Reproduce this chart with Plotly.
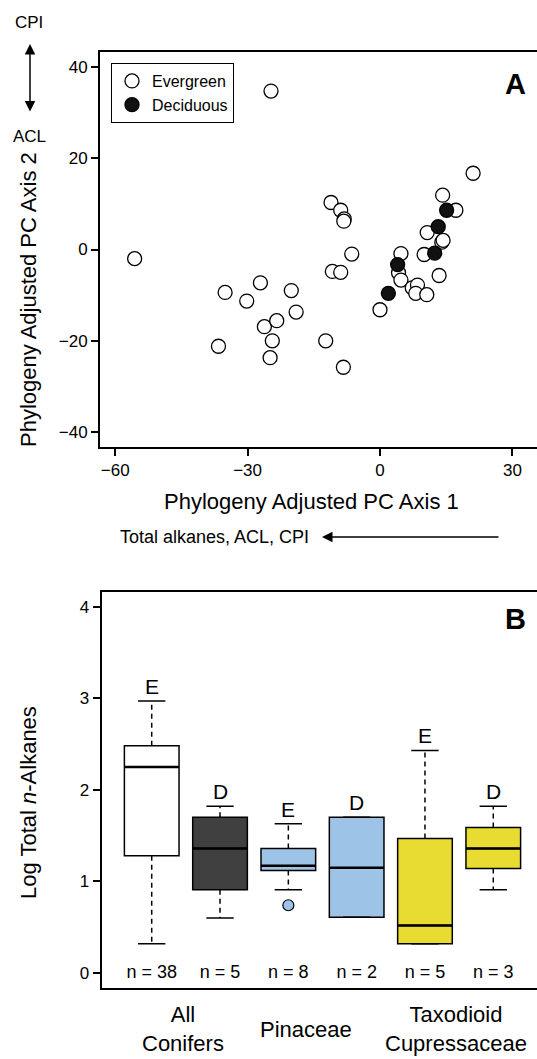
import plotly.graph_objects as go

W, H = 537, 1059
FONT = "Liberation Sans, Arial, Helvetica, sans-serif"

# ---------------- Panel A data (phylogeny adjusted PCA scores) ----------------
evergreen_pc1 = [-55.6, -24.7, -11.1, -8.9, -8.1, -8.2, -6.4, -10.8, -8.9, -35.1,
                 -27.1, -30.2, -20.1, -19.0, -26.2, -23.4, -24.4, -36.6, -24.9, -12.3,
                 -8.3, 21.1, 14.2, 17.2, 10.7, 14.0, 14.3, 10.0, 4.75, 4.2,
                 4.75, 13.4, 7.3, 8.5, 8.1, 10.6, 0.0]
evergreen_pc2 = [-2.0, 34.7, 10.3, 8.6, 6.7, 6.2, -1.0, -4.8, -5.0, -9.4,
                 -7.3, -11.3, -9.0, -13.7, -16.9, -15.6, -20.0, -21.2, -23.7, -20.0,
                 -25.8, 16.7, 11.9, 8.6, 3.7, 1.6, 2.0, -1.1, -0.9, -5.1,
                 -6.7, -5.7, -8.4, -7.8, -9.6, -9.9, -13.2]
deciduous_pc1 = [15.1, 13.2, 12.4, 4.0, 1.9]
deciduous_pc2 = [8.6, 5.0, -0.8, -3.3, -9.6]

# ---------------- Panel B data (log total n-alkanes) ----------------
positions = [1, 2, 3, 4, 5, 6]
whisker_low = [0.32, 0.60, 0.91, 0.61, 0.32, 0.91]
q1 = [1.28, 0.91, 1.12, 0.61, 0.32, 1.14]
median = [2.25, 1.36, 1.17, 1.15, 0.52, 1.36]
q3 = [2.48, 1.70, 1.36, 1.70, 1.47, 1.59]
whisker_high = [2.97, 1.82, 1.63, 1.70, 2.43, 1.82]
habit_letters = ["E", "D", "E", "D", "E", "D"]
n_labels = ["n = 38", "n = 5", "n = 8", "n = 2", "n = 5", "n = 3"]
box_colors = ["#FFFFFF", "#404040", "#9DC3E6", "#9DC3E6", "#E8DC32", "#E8DC32"]
outlier_pos = [3]
outlier_val = [0.74]
outlier_color = "#9DC3E6"
group_labels = ["All<br>Conifers", "Pinaceae", "Taxodioid<br>Cupressaceae"]
group_label_pos = [1.46, 3.26, 5.45]

BOX_W = 0.8
CAP_HALF = 0.2

fig = go.Figure()

# Panel A scatter
fig.add_trace(go.Scatter(
    x=evergreen_pc1, y=evergreen_pc2, mode="markers", name="Evergreen",
    marker=dict(symbol="circle", size=14, color="white",
                line=dict(color="black", width=1.3)),
    xaxis="x", yaxis="y"))
fig.add_trace(go.Scatter(
    x=deciduous_pc1, y=deciduous_pc2, mode="markers", name="Deciduous",
    marker=dict(symbol="circle", size=14, color="#111111",
                line=dict(color="black", width=1.3)),
    xaxis="x", yaxis="y"))

# Panel B boxes
for i, p in enumerate(positions):
    fig.add_trace(go.Box(
        x=[p], q1=[q1[i]], median=[median[i]], q3=[q3[i]],
        lowerfence=[q1[i]], upperfence=[q3[i]],
        width=BOX_W, whiskerwidth=0, boxpoints=False,
        fillcolor=box_colors[i], line=dict(color="black", width=1.5),
        showlegend=False, hoverinfo="skip", xaxis="x2", yaxis="y2"))

# dashed whiskers, caps, thick medians
wx, wy = [], []
cx, cy = [], []
mx, my = [], []
for i, p in enumerate(positions):
    wx += [p, p, None, p, p, None]
    wy += [q3[i], whisker_high[i], None, q1[i], whisker_low[i], None]
    cx += [p - CAP_HALF, p + CAP_HALF, None, p - CAP_HALF, p + CAP_HALF, None]
    cy += [whisker_high[i], whisker_high[i], None, whisker_low[i], whisker_low[i], None]
    mx += [p - BOX_W / 2, p + BOX_W / 2, None]
    my += [median[i], median[i], None]

fig.add_trace(go.Scatter(x=wx, y=wy, mode="lines",
                         line=dict(color="black", width=1.5, dash="5px,4px"),
                         showlegend=False, hoverinfo="skip", xaxis="x2", yaxis="y2"))
fig.add_trace(go.Scatter(x=cx, y=cy, mode="lines",
                         line=dict(color="black", width=1.5),
                         showlegend=False, hoverinfo="skip", xaxis="x2", yaxis="y2"))
fig.add_trace(go.Scatter(x=mx, y=my, mode="lines",
                         line=dict(color="black", width=2.5),
                         showlegend=False, hoverinfo="skip", xaxis="x2", yaxis="y2"))
fig.add_trace(go.Scatter(x=outlier_pos, y=outlier_val, mode="markers",
                         marker=dict(size=11, color=outlier_color,
                                     line=dict(color="black", width=1.2)),
                         showlegend=False, hoverinfo="skip", xaxis="x2", yaxis="y2"))
fig.add_trace(go.Scatter(x=positions, y=[0] * len(positions), mode="text",
                         text=n_labels, textposition="middle center",
                         textfont=dict(size=18, color="black", family=FONT),
                         showlegend=False, hoverinfo="skip", xaxis="x2", yaxis="y2"))

annotations = []
for i, p in enumerate(positions):
    annotations.append(dict(x=p, y=whisker_high[i], xref="x2", yref="y2",
                            text=habit_letters[i], showarrow=False,
                            xanchor="center", yanchor="bottom", yshift=1,
                            font=dict(size=21, color="black", family=FONT)))
for lab, pos in zip(group_labels, group_label_pos):
    annotations.append(dict(x=pos, y=1 - 1029 / H, xref="x2", yref="paper",
                            text=lab, showarrow=False, xanchor="center",
                            yanchor="middle",
                            font=dict(size=22, color="black", family=FONT)))

def px(x):
    return x / W

def py(y):
    return 1 - y / H

def label(x, y, text, size, bold=False, angle=0):
    return dict(x=px(x), y=py(y), xref="paper", yref="paper",
                text=f"<b>{text}</b>" if bold else text, textangle=angle,
                showarrow=False, xanchor="center", yanchor="middle",
                font=dict(size=size, color="black", family=FONT))

annotations += [
    label(515.5, 84, "A", 29, bold=True),
    label(515.5, 619, "B", 29, bold=True),
    label(28, 300, "Phylogeny Adjusted PC Axis 2", 22, angle=-90),
    label(311, 501, "Phylogeny Adjusted PC Axis 1", 22),
    label(28, 803, "Log Total <i>n</i>-Alkanes", 22, angle=-90),
    label(214, 537, "Total alkanes, ACL, CPI", 18),
    label(29, 23, "CPI", 17),
    label(29, 136, "ACL", 17),
    dict(x=px(322), y=py(537), xref="paper", yref="paper", text="",
         showarrow=True, ax=178, ay=0, arrowhead=2, arrowsize=1.4,
         arrowwidth=1.5, arrowcolor="black"),
    dict(x=px(30), y=py(44), xref="paper", yref="paper", text="",
         showarrow=True, ax=0, ay=69, arrowhead=2, startarrowhead=2,
         arrowside="end+start", arrowsize=1.4, startarrowsize=1.4,
         arrowwidth=1.5, arrowcolor="black"),
]

axis_common = dict(showline=True, linecolor="black", linewidth=2,
                   showgrid=False, zeroline=False, ticks="outside",
                   ticklen=7, tickwidth=1.5, tickcolor="black",
                   tickfont=dict(size=17, color="black", family=FONT))

fig.update_layout(
    width=W, height=H,
    margin=dict(l=0, r=0, t=0, b=0),
    paper_bgcolor="white", plot_bgcolor="white",
    font=dict(family=FONT, color="black"),
    showlegend=True,
    legend=dict(x=px(111), y=py(63), xanchor="left", yanchor="top",
                bgcolor="white", bordercolor="black", borderwidth=1,
                font=dict(size=16, color="black", family=FONT),
                itemsizing="trace", tracegroupgap=0),
    xaxis=dict(domain=[px(100), 1], range=[-63.45, 35.58],
               tickvals=[-60, -30, 0, 30], mirror=True, anchor="y",
               **axis_common),
    yaxis=dict(domain=[py(446.7), py(52.3)], range=[-43.2, 43.2],
               tickvals=[-40, -20, 0, 20, 40], mirror=False, anchor="x",
               **axis_common),
    xaxis2=dict(domain=[px(101.5), 1], range=[0.265, 6.64],
                showline=True, linecolor="black", linewidth=2, mirror=True,
                showgrid=False, zeroline=False, ticks="", showticklabels=False,
                anchor="y2"),
    yaxis2=dict(domain=[py(987.7), py(591.7)], range=[-0.16, 4.163],
                tickvals=[0, 1, 2, 3, 4], mirror=False, anchor="x2",
                **axis_common),
    annotations=annotations,
)

fig.write_html(
    "out.html",
    config={"displayModeBar": False},
    post_script="document.body.style.margin='0px';document.body.style.overflow='hidden';",
)
